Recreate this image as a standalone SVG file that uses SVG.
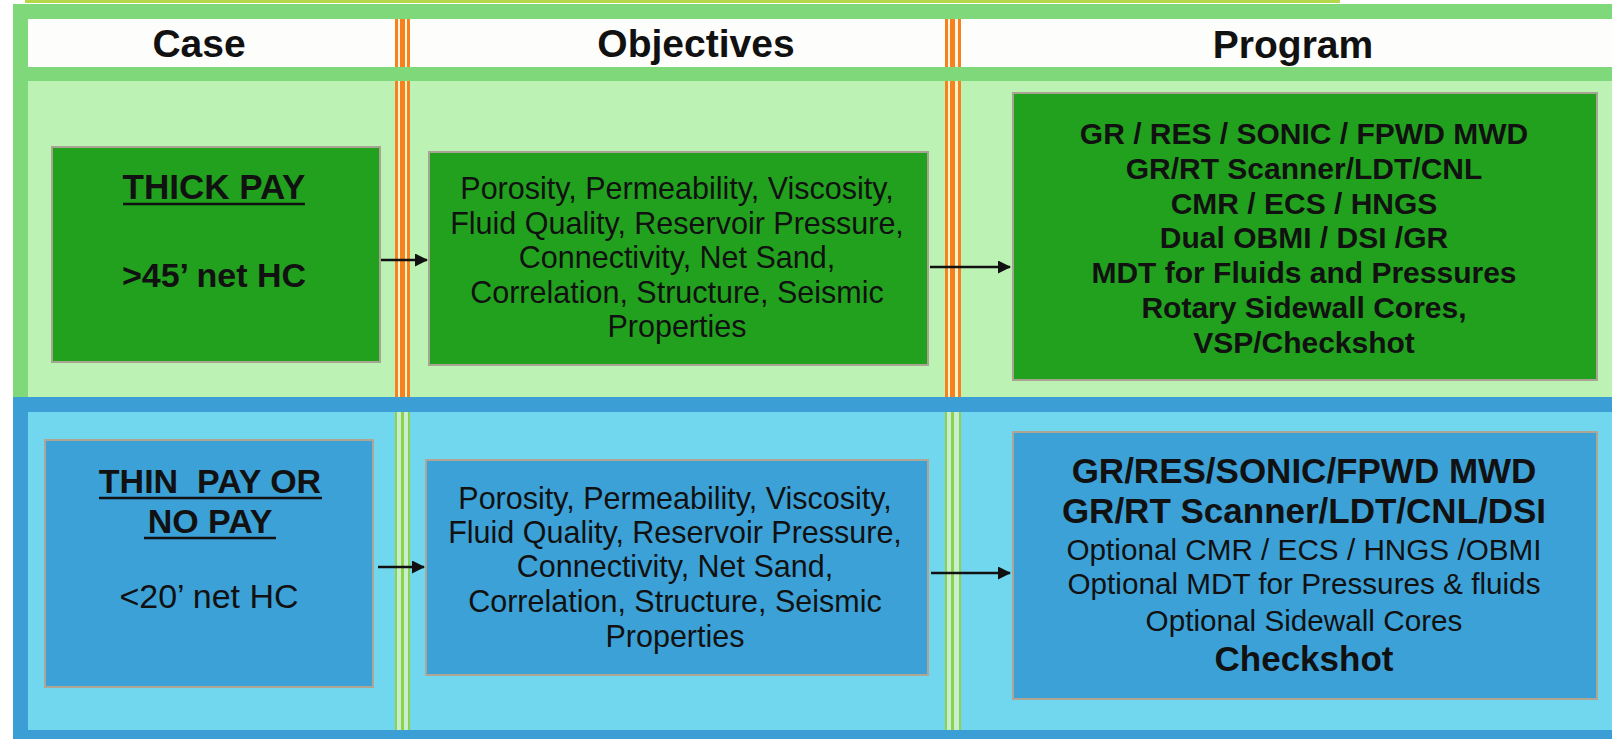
<svg xmlns="http://www.w3.org/2000/svg" width="1612" height="739" viewBox="0 0 1612 739">
<style>
.hdr{font-family:"Liberation Sans",Arial,sans-serif;font-weight:bold;font-size:39px;fill:#111;text-anchor:middle}
.case{font-family:"Liberation Sans",Arial,sans-serif;font-weight:bold;font-size:34px;fill:#111;text-anchor:middle}
.caser{font-family:"Liberation Sans",Arial,sans-serif;font-size:34px;fill:#111;text-anchor:middle}
.obj{font-family:"Liberation Sans",Arial,sans-serif;font-size:30.5px;fill:#111;text-anchor:middle}
.prg{font-family:"Liberation Sans",Arial,sans-serif;font-weight:bold;font-size:30px;fill:#111;text-anchor:middle}
.prgb{font-family:"Liberation Sans",Arial,sans-serif;font-weight:bold;font-size:35px;fill:#111;text-anchor:middle}
.prgr{font-family:"Liberation Sans",Arial,sans-serif;font-size:29.7px;fill:#111;text-anchor:middle}
.gbox{fill:#22a11e;stroke:#a9a393;stroke-width:2}
.bbox{fill:#3ca1d7;stroke:#b0a593;stroke-width:2}
.ol{fill:#f5821f}
.gl{fill:#8fd24a}
.ul{stroke:#111;stroke-width:2.5}
.conn{stroke:#111;stroke-width:2.5;fill:none;marker-end:url(#ah)}
</style>
<defs>
<marker id="ah" markerUnits="userSpaceOnUse" markerWidth="13" markerHeight="13" refX="12" refY="6.5" orient="auto">
<path d="M0,0 L13,6.5 L0,13 z" fill="#111"/>
</marker>
</defs>
<rect x="0" y="0" width="1612" height="739" fill="#ffffff"/>
<rect x="25" y="0" width="1315" height="3" fill="#b5d84a"/>
<g id="frame">
<rect x="13" y="4" width="1599" height="394" fill="#7fd97a"/>
<rect x="28" y="19" width="1584" height="48" fill="#fdfdfb"/>
<rect x="28" y="81" width="1584" height="316" fill="#bdf2b5"/>
<rect x="13" y="397" width="1599" height="342" fill="#3b9fd6"/>
<rect x="28" y="412" width="1584" height="318" fill="#70d7ef"/>
</g>
<g id="dividers">
<rect x="397" y="19" width="11" height="48" fill="#fff6e0"/>
<rect class="ol" x="395" y="19" width="3" height="48"/><rect class="ol" x="400" y="19" width="5" height="48"/><rect class="ol" x="407" y="19" width="3" height="48"/>
<rect x="397" y="81" width="11" height="316" fill="#f6f3c8"/>
<rect class="ol" x="395" y="81" width="3" height="316"/><rect class="ol" x="400" y="81" width="5" height="316"/><rect class="ol" x="407" y="81" width="3" height="316"/>
<rect x="397" y="412" width="11" height="318" fill="#c6eed0"/>
<rect class="gl" x="395" y="412" width="2" height="318"/><rect class="gl" x="401" y="412" width="3" height="318"/><rect class="gl" x="408" y="412" width="2" height="318"/>
<rect x="947" y="19" width="12" height="48" fill="#fff6e0"/>
<rect class="ol" x="945" y="19" width="3" height="48"/><rect class="ol" x="950" y="19" width="5" height="48"/><rect class="ol" x="958" y="19" width="3" height="48"/>
<rect x="947" y="81" width="12" height="316" fill="#f6f3c8"/>
<rect class="ol" x="945" y="81" width="3" height="316"/><rect class="ol" x="950" y="81" width="5" height="316"/><rect class="ol" x="958" y="81" width="3" height="316"/>
<rect x="947" y="412" width="12" height="318" fill="#c6eed0"/>
<rect class="gl" x="945" y="412" width="2" height="318"/><rect class="gl" x="951" y="412" width="3" height="318"/><rect class="gl" x="959" y="412" width="2" height="318"/>
</g>
<g id="headers">
<text class="hdr" x="199" y="57">Case</text>
<text class="hdr" x="696" y="57">Objectives</text>
<text class="hdr" x="1293" y="58">Program</text>
</g>
<g id="thick-pay">
<rect class="gbox" x="52" y="147" width="328" height="215"/>
<text class="case" x="214" y="199" style="font-size:35px">THICK PAY</text>
<line class="ul" x1="123" y1="204" x2="305" y2="204"/>
<text class="case" x="214" y="287">&gt;45’ net HC</text>
</g>
<g id="thick-objectives">
<rect class="gbox" x="429" y="152" width="499" height="213"/>
<text class="obj" x="677" y="199">Porosity, Permeability, Viscosity,</text>
<text class="obj" x="677" y="233.5">Fluid Quality, Reservoir Pressure,</text>
<text class="obj" x="677" y="268">Connectivity, Net Sand,</text>
<text class="obj" x="677" y="302.5">Correlation, Structure, Seismic</text>
<text class="obj" x="677" y="337">Properties</text>
</g>
<g id="thick-program">
<rect class="gbox" x="1013" y="93" width="584" height="287"/>
<text class="prg" x="1304" y="144">GR / RES / SONIC / FPWD MWD</text>
<text class="prg" x="1304" y="179">GR/RT Scanner/LDT/CNL</text>
<text class="prg" x="1304" y="214">CMR / ECS / HNGS</text>
<text class="prg" x="1304" y="248">Dual OBMI / DSI /GR</text>
<text class="prg" x="1304" y="283">MDT for Fluids and Pressures</text>
<text class="prg" x="1304" y="318">Rotary Sidewall Cores,</text>
<text class="prg" x="1304" y="353">VSP/Checkshot</text>
</g>
<g id="thin-pay">
<rect class="bbox" x="45" y="440" width="328" height="247"/>
<text class="case" x="210" y="493" xml:space="preserve">THIN  PAY OR</text>
<line class="ul" x1="99" y1="498" x2="322" y2="498"/>
<text class="case" x="210" y="533">NO PAY</text>
<line class="ul" x1="144" y1="538" x2="276" y2="538"/>
<text class="caser" x="209" y="608">&lt;20’ net HC</text>
</g>
<g id="thin-objectives">
<rect class="bbox" x="426" y="460" width="502" height="215"/>
<text class="obj" x="675" y="509">Porosity, Permeability, Viscosity,</text>
<text class="obj" x="675" y="543">Fluid Quality, Reservoir Pressure,</text>
<text class="obj" x="675" y="577">Connectivity, Net Sand,</text>
<text class="obj" x="675" y="612">Correlation, Structure, Seismic</text>
<text class="obj" x="675" y="647">Properties</text>
</g>
<g id="thin-program">
<rect class="bbox" x="1013" y="432" width="584" height="267"/>
<text class="prgb" x="1304" y="483">GR/RES/SONIC/FPWD MWD</text>
<text class="prgb" x="1304" y="523">GR/RT Scanner/LDT/CNL/DSI</text>
<text class="prgr" x="1304" y="560">Optional CMR / ECS / HNGS /OBMI</text>
<text class="prgr" x="1304" y="594">Optional MDT for Pressures &amp; fluids</text>
<text class="prgr" x="1304" y="631">Optional Sidewall Cores</text>
<text class="prgb" x="1304" y="671">Checkshot</text>
</g>
<g id="connectors">
<line class="conn" x1="381" y1="260" x2="427" y2="260"/>
<line class="conn" x1="930" y1="267" x2="1010" y2="267"/>
<line class="conn" x1="378" y1="567" x2="424" y2="567"/>
<line class="conn" x1="931" y1="573" x2="1010" y2="573"/>
</g>
</svg>
